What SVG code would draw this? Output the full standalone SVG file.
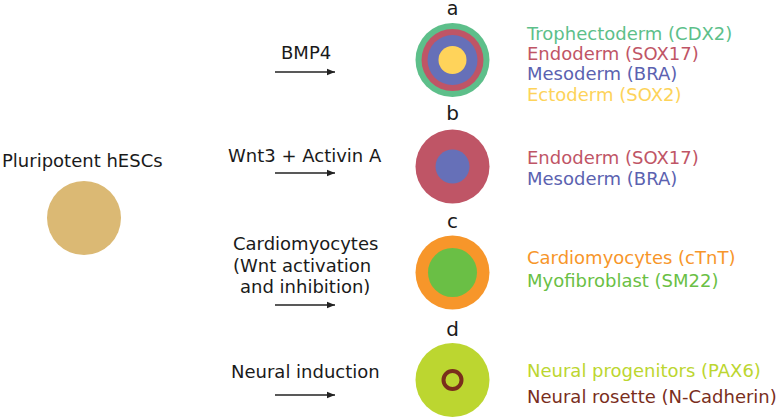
<svg xmlns="http://www.w3.org/2000/svg" width="780" height="418" viewBox="0 0 780 418">
<defs>
<marker id="ah" viewBox="0 0 10 10" refX="10" refY="5" markerWidth="8" markerHeight="8" markerUnits="userSpaceOnUse" orient="auto"><path d="M0,1 L10,5 L0,9 Z" fill="#222"/></marker>
<style>
text{font-family:"DejaVu Sans","Verdana",sans-serif;font-size:18px;fill:#1a1a1a}
.lbl{font-size:20px;text-anchor:middle}
.conn line{stroke:#222;stroke-width:1.3;marker-end:url(#ah)}
</style>
</defs>
<rect width="780" height="418" fill="#fff"/>
<g id="source">
<text x="2" y="167">Pluripotent hESCs</text>
<circle cx="84" cy="218" r="37" fill="#dbb974"/>
</g>
<g id="conditions">
<text x="281" y="59">BMP4</text>
<text x="228" y="162">Wnt3 + Activin A</text>
<text x="233" y="250">Cardiomyocytes</text>
<text x="233" y="272">(Wnt activation</text>
<text x="240" y="293">and inhibition)</text>
<text x="231" y="378">Neural induction</text>
</g>
<g class="conn" id="connectors">
<line x1="275" y1="72" x2="335" y2="72"/>
<line x1="275" y1="173" x2="335" y2="173"/>
<line x1="275" y1="305" x2="335" y2="305"/>
<line x1="275" y1="395" x2="335" y2="395"/>
</g>
<g id="node-a">
<text class="lbl" x="452.5" y="15" style="font-size:19px">a</text>
<circle cx="452.5" cy="60" r="37" fill="#5dbf8a"/>
<circle cx="452.5" cy="60" r="31" fill="#bf5566"/>
<circle cx="452.5" cy="60" r="25" fill="#6670b8"/>
<circle cx="452.5" cy="60" r="14" fill="#ffd35a"/>
</g>
<g id="node-b">
<text class="lbl" x="452.5" y="120">b</text>
<circle cx="452.5" cy="166.5" r="37" fill="#bf5566"/>
<circle cx="452.5" cy="166.5" r="17" fill="#6670b8"/>
</g>
<g id="node-c">
<text class="lbl" x="452.5" y="228">c</text>
<circle cx="452.5" cy="272.5" r="37" fill="#f7962a"/>
<circle cx="452.5" cy="272.5" r="24.5" fill="#6abf45"/>
</g>
<g id="node-d">
<text class="lbl" x="452.5" y="336">d</text>
<circle cx="452.5" cy="380" r="37" fill="#bcd630"/>
<circle cx="452.5" cy="380" r="9" fill="none" stroke="#7a2e1c" stroke-width="4"/>
</g>
<g id="legend">
<text x="527" y="40" style="fill:#5dbf8a">Trophectoderm (CDX2)</text>
<text x="527" y="60" style="fill:#bf5566">Endoderm (SOX17)</text>
<text x="527" y="80" style="fill:#5b62b0">Mesoderm (BRA)</text>
<text x="527" y="100.5" style="fill:#fdd35a">Ectoderm (SOX2)</text>
<text x="527" y="164" style="fill:#bf5566">Endoderm (SOX17)</text>
<text x="527" y="185" style="fill:#5b62b0">Mesoderm (BRA)</text>
<text x="527" y="264" style="fill:#f7962a">Cardiomyocytes (cTnT)</text>
<text x="527" y="286.5" style="fill:#6abf45">Myofibroblast (SM22)</text>
<text x="527" y="376.5" style="fill:#bcd630">Neural progenitors (PAX6)</text>
<text x="527" y="403" style="fill:#7a2e1c">Neural rosette (N-Cadherin)</text>
</g>
</svg>
